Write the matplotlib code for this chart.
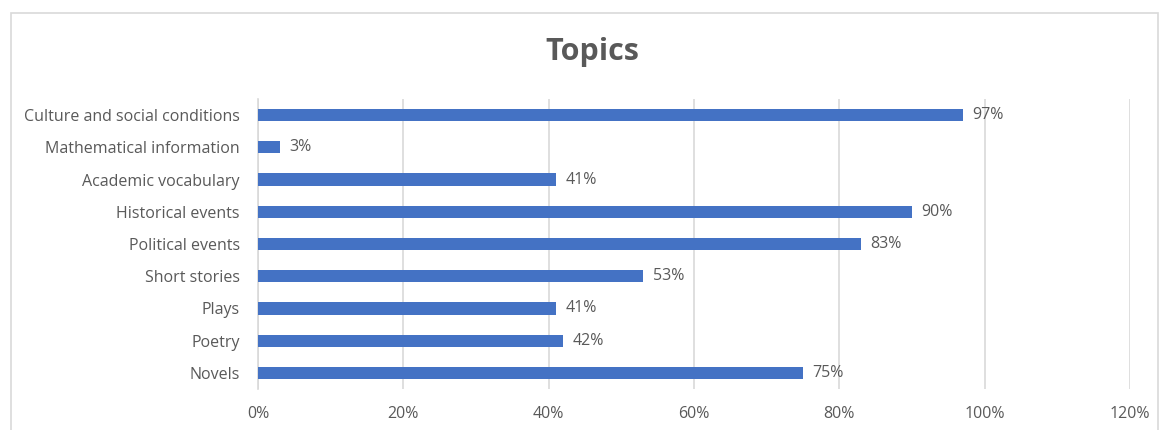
import matplotlib.pyplot as plt
import matplotlib.patches as patches
import numpy as np

topics = ["Culture and social conditions", "Mathematical information", "Academic vocabulary",
          "Historical events", "Political events", "Short stories", "Plays", "Poetry", "Novels"]
values = [0.97, 0.03, 0.41, 0.90, 0.83, 0.53, 0.41, 0.42, 0.75]
ticks = [0, 0.2, 0.4, 0.6, 0.8, 1.0, 1.2]

plt.rcParams['font.family'] = ['Open Sans', 'DejaVu Sans']
txt = '#595959'
fs = 11.5

fig = plt.figure(figsize=(11.6, 4.3), dpi=100)
ax = fig.add_axes([258/1160, 1-389/430, (1130-258)/1160, 290/430])

y = np.arange(len(topics))[::-1]
ax.barh(y, values, height=0.38, color='#4472C4', zorder=3)
for yi, v in zip(y, values):
    ax.text(v + 0.013, yi, f"{round(v*100)}%", va='center', ha='left', fontsize=fs, color=txt)

ax.set_xlim(0, 1.2)
ax.set_ylim(-0.5, 8.5)
ax.set_xticks(ticks)
ax.set_xticklabels([f"{int(t*100)}%" for t in ticks], fontsize=fs, color=txt)
ax.set_yticks(y)
ax.set_yticklabels(topics, fontsize=fs, color=txt)
ax.tick_params(length=0, axis='y', pad=13)
ax.tick_params(length=0, axis='x', pad=12)
ax.grid(axis='x', color='#d9d9d9', linewidth=1.2, zorder=0)
for s in ['top', 'right', 'bottom']:
    ax.spines[s].set_visible(False)
ax.spines['left'].set_color('#d9d9d9')
ax.spines['left'].set_linewidth(1.2)

fig.text(592/1160, 1-52/430, "Topics", ha='center', va='center', fontsize=22,
         fontweight='bold', color=txt)

fig.add_artist(patches.Rectangle((11/1160, -0.05), (1158-11)/1160, 1.05-13/430,
                                 transform=fig.transFigure, fill=False,
                                 edgecolor='#d9d9d9', linewidth=1.2, clip_on=False))

fig.savefig("out.png", dpi=100)
